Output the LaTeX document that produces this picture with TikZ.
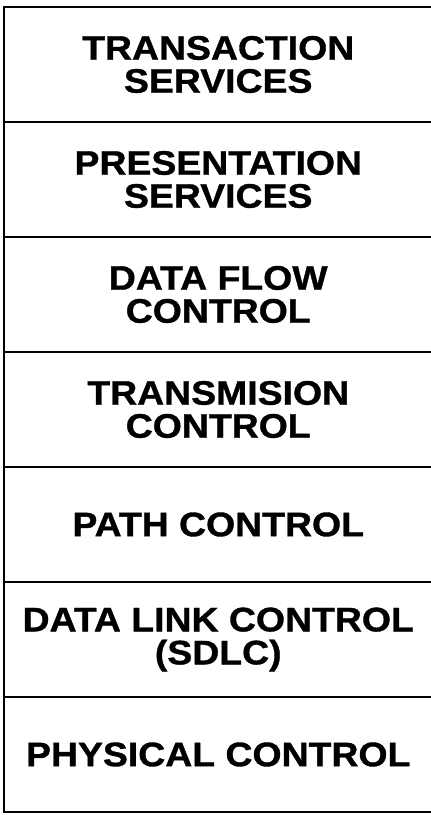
\documentclass[tikz,border=0pt]{standalone}
\usepackage{fontspec}
\setmainfont{Liberation Sans}[FakeStretch=1.1,FakeBold=1]
\usetikzlibrary{positioning}

\begin{document}
\begin{tikzpicture}[
  font=\bfseries\fontsize{34}{33}\selectfont,
  layer/.style={draw, line width=1.6pt, align=center, outer sep=0pt, inner sep=0pt,
  minimum width=428.5pt, minimum height=115pt},
  node distance=0pt]
\useasboundingbox (0,0) rectangle (431pt,815pt);
\node[layer] (trans) at (218.25pt,750.5pt) {TRANSACTION\\SERVICES};
\node[layer,below=of trans] (pres) {PRESENTATION\\SERVICES};
\node[layer,below=of pres] (flow) {DATA FLOW\\CONTROL};
\node[layer,below=of flow] (tc) {TRANSMISION\\CONTROL};
\node[layer,below=of tc] (path) {PATH CONTROL};
\node[layer,below=of path] (dlc) {DATA LINK CONTROL\\(SDLC)};
\node[layer,below=of dlc] (phys) {PHYSICAL CONTROL};
\end{tikzpicture}
\end{document}
